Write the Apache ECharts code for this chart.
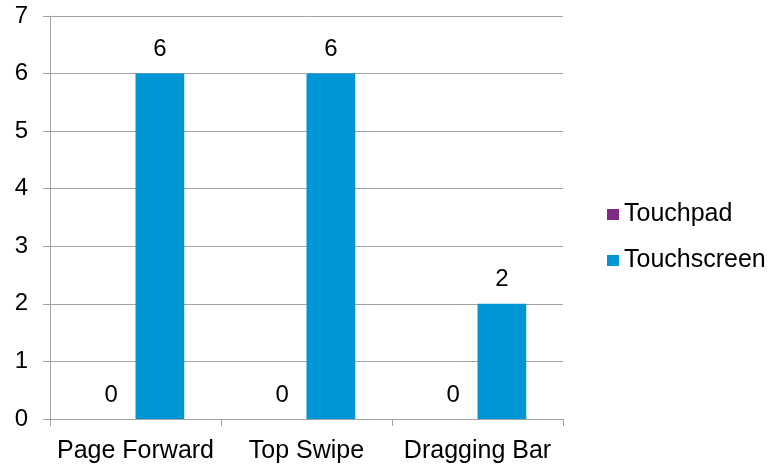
<!DOCTYPE html>
<html>
<head>
<meta charset="utf-8">
<script src="https://cdn.jsdelivr.net/npm/echarts@6/dist/echarts.min.js"></script>
<style>
  html, body { margin: 0; padding: 0; background: #fff; }
  #chart { width: 781px; height: 468px; }
</style>
</head>
<body>
<div id="chart"></div>
<script>
// Gesture categories and per-device counts
const categories = ['Page Forward', 'Top Swipe', 'Dragging Bar'];
const touchpad = [0, 0, 0];
const touchscreen = [6, 6, 2];
const yTicks = [0, 1, 2, 3, 4, 5, 6, 7];

const FONT = 'Liberation Sans, Arial, sans-serif';
const GRID_GRAY = '#a3a3a3';

const chart = echarts.init(document.getElementById('chart'), null, { renderer: 'canvas' });

const labelStyle = {
  show: true,
  position: 'top',
  distance: 12,
  color: '#000',
  fontFamily: FONT,
  fontSize: 24
};

chart.setOption({
  animation: false,
  backgroundColor: '#fff',
  grid: { left: 50, right: 218, top: 16, bottom: 49 },
  legend: {
    orient: 'vertical',
    left: 602,
    top: 197,
    itemWidth: 12,
    itemHeight: 11,
    itemGap: 21,
    icon: 'rect',
    textStyle: { fontFamily: FONT, fontSize: 25, color: '#000' },
    data: ['Touchpad', 'Touchscreen']
  },
  xAxis: {
    type: 'category',
    data: categories,
    axisLine: { show: true, lineStyle: { color: GRID_GRAY, width: 1 } },
    axisTick: { show: true, length: 7, lineStyle: { color: GRID_GRAY } },
    axisLabel: {
      interval: 0,
      hideOverlap: false,
      color: '#000',
      fontFamily: FONT,
      fontSize: 25,
      margin: 20
    }
  },
  yAxis: {
    type: 'value',
    min: yTicks[0],
    max: yTicks[yTicks.length - 1],
    interval: 1,
    axisLine: { show: true, lineStyle: { color: GRID_GRAY, width: 1 } },
    axisTick: { show: true, length: 7, lineStyle: { color: GRID_GRAY } },
    splitLine: { show: true, lineStyle: { color: GRID_GRAY, width: 1 } },
    axisLabel: { color: '#000', fontFamily: FONT, fontSize: 24, margin: 22 }
  },
  series: [
    {
      name: 'Touchpad',
      type: 'bar',
      data: touchpad,
      barGap: '0%',
      barCategoryGap: '43%',
      itemStyle: { color: '#7E2B82' },
      label: labelStyle
    },
    {
      name: 'Touchscreen',
      type: 'bar',
      data: touchscreen,
      barGap: '0%',
      barCategoryGap: '43%',
      itemStyle: { color: '#0096D6' },
      label: labelStyle
    }
  ]
});
</script>
</body>
</html>
